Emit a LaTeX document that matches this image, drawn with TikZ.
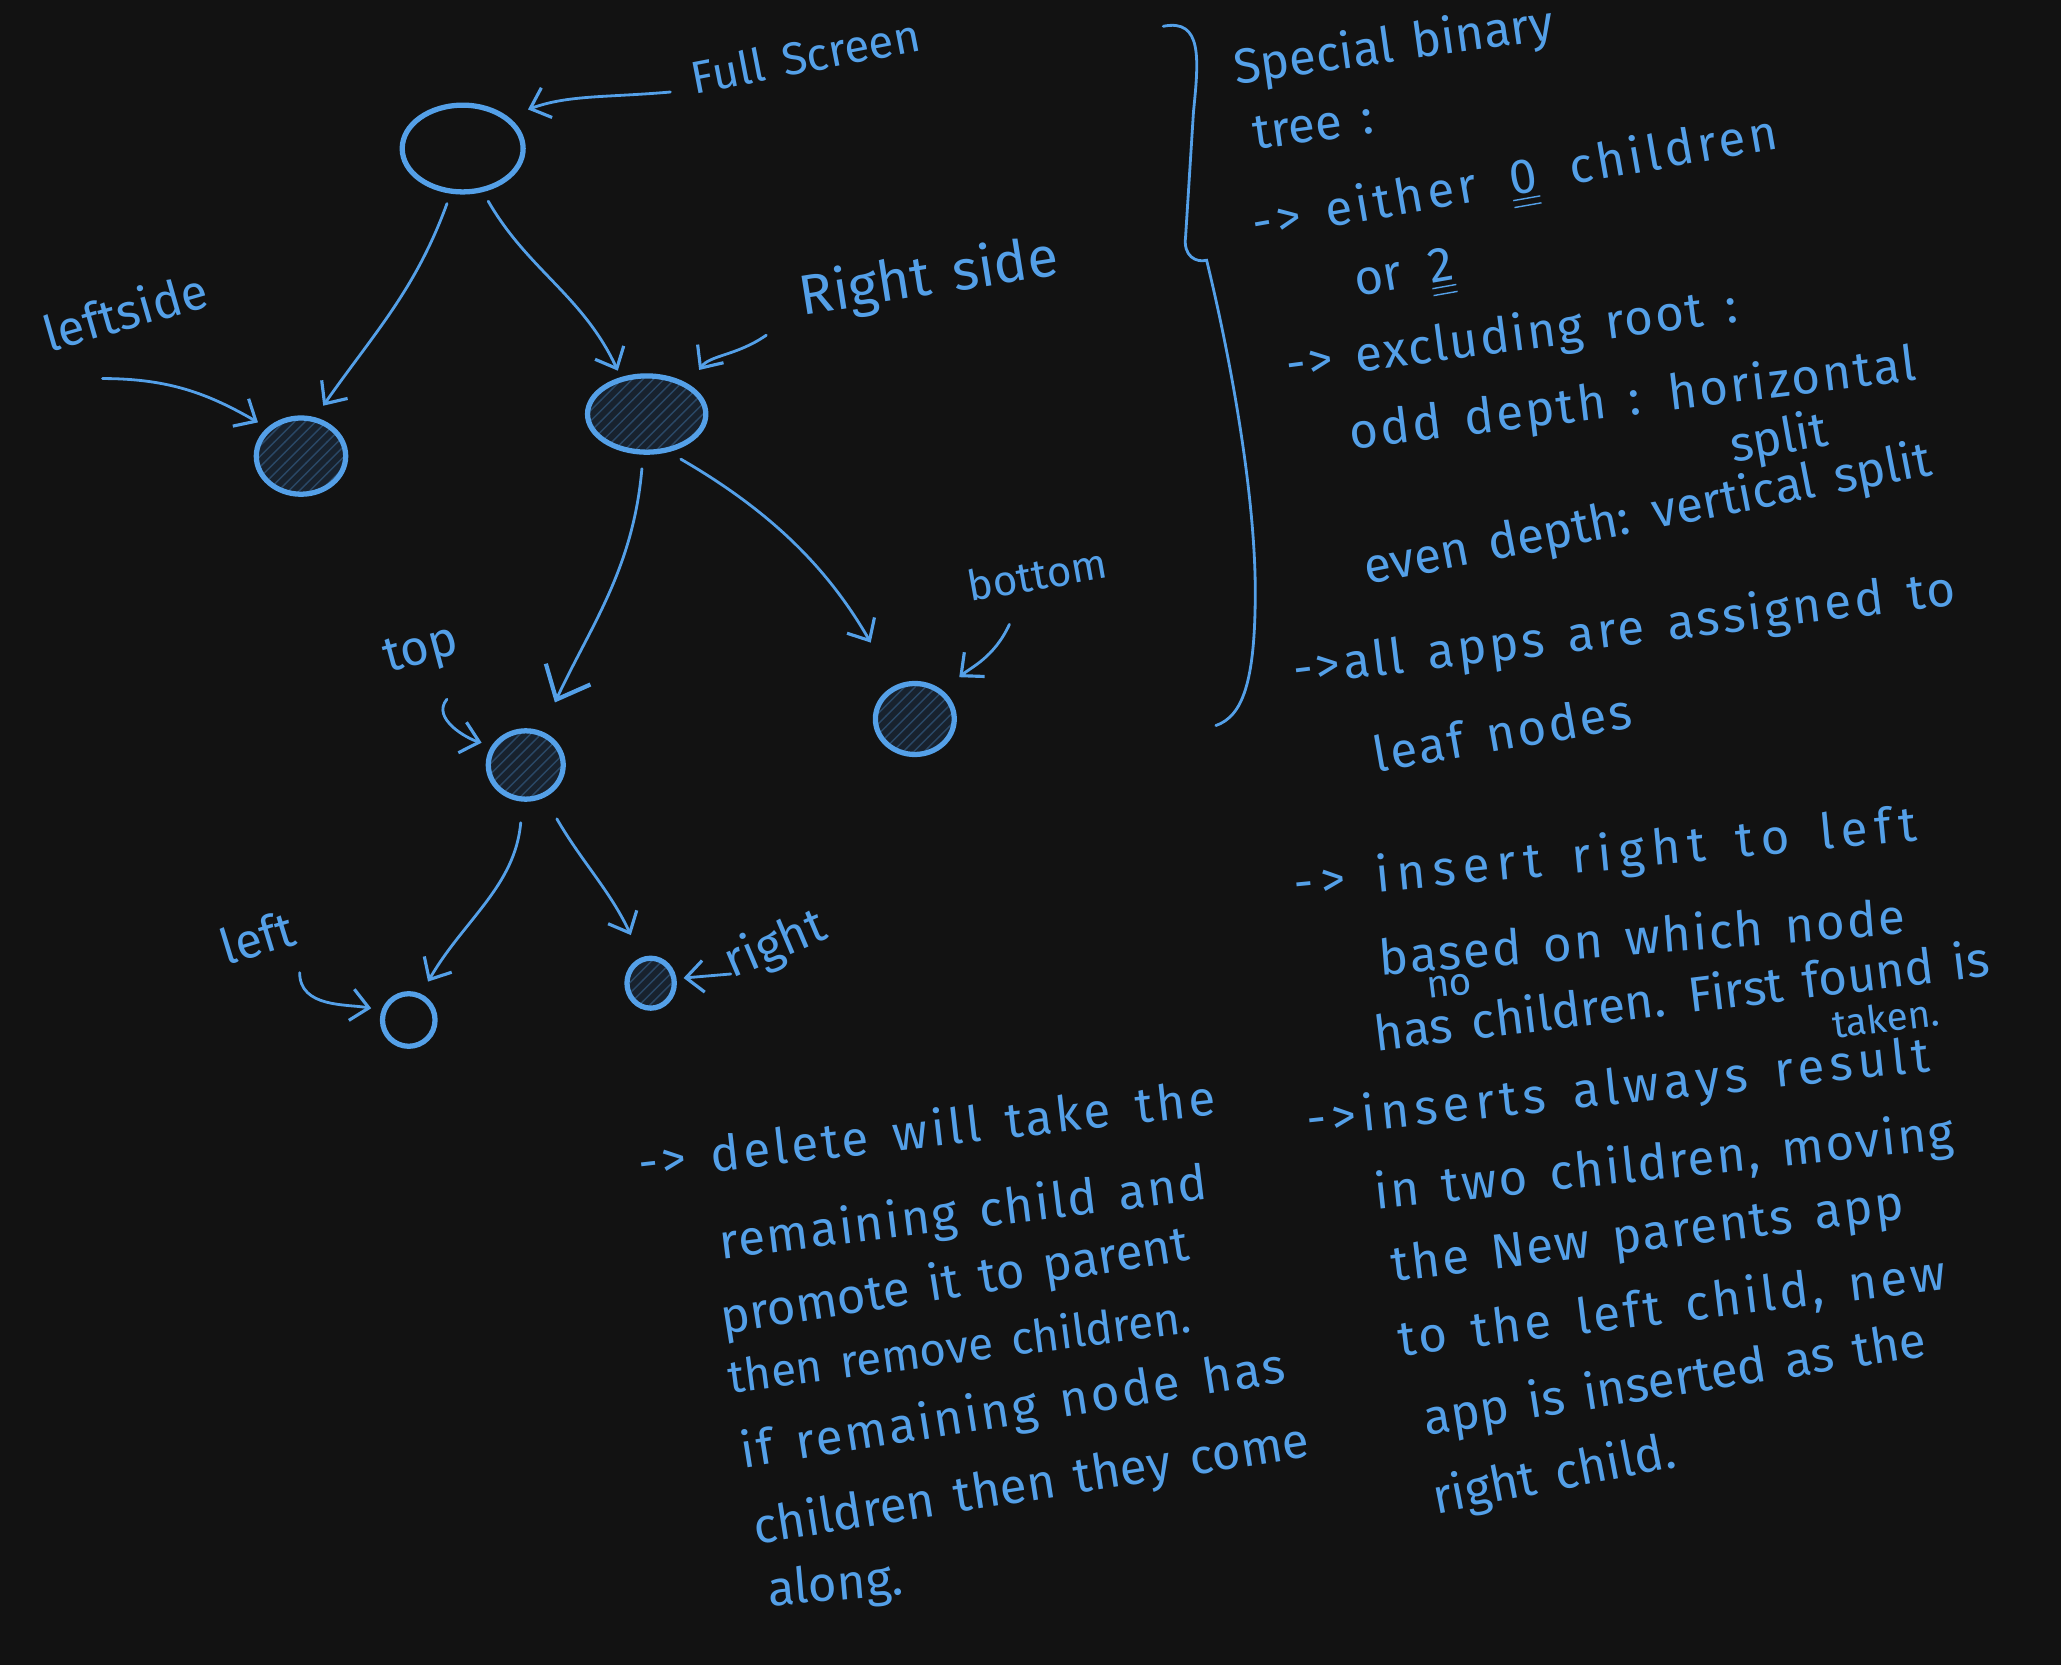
\documentclass[tikz,border=0pt]{standalone}
\usepackage{fontspec}
\setmainfont{Fira Sans}
\newfontfamily\hand[WordSpace=1.5]{Fira Sans}
\usetikzlibrary{arrows.meta,shapes.geometric,patterns}
\definecolor{ink}{RGB}{84,160,232}
\definecolor{board}{RGB}{18,18,18}
\definecolor{shade}{RGB}{24,34,46}
\def\px{0.13144mm}
\tikzset{
  pen/.style={ink, line width=0.8pt, line cap=round},
  tip/.style={-{Straight Barb[length=5pt,width=9pt,line width=0.9pt]}},
  bigtip/.style={-{Straight Barb[length=8pt,width=14pt,line width=1.2pt]}},
  vertex/.style={ellipse, draw=ink, line width=1.5pt, inner sep=0pt},
  solid vertex/.style={vertex, preaction={fill=shade}, pattern=north east lines, pattern color=ink!30!shade},
  note/.style={font=\hand\fontsize{14}{17}\selectfont, text=ink, anchor=base west, inner sep=0pt},
  wide note/.style={note, font=\hand\fontsize{14}{17}\selectfont\addfontfeatures{LetterSpace=#1}},
  small note/.style={note, font=\hand\fontsize{11}{13}\selectfont},
  narrow note/.style={note, font=\hand\fontsize{13}{15}\selectfont},
}

\begin{document}
\begin{tikzpicture}[x=\px, y=-\px]
  \fill[board] (0,0) rectangle (1568,1267);
  \useasboundingbox (0,0) rectangle (1568,1267);

  \node[vertex, minimum width=92*\px, minimum height=66*\px] (root) at (352,113) {};
  \node[solid vertex, minimum width=68*\px, minimum height=58*\px] (lside) at (229,347) {};
  \node[solid vertex, minimum width=90*\px, minimum height=58*\px] (rside) at (492,315) {};
  \node[solid vertex, minimum width=57*\px, minimum height=52*\px] (topn) at (400,582) {};
  \node[solid vertex, minimum width=60*\px, minimum height=54*\px] (botn) at (696,547) {};
  \node[vertex, minimum width=40*\px, minimum height=40*\px] (leftn) at (311,776) {};
  \node[solid vertex, minimum width=36*\px, minimum height=38*\px] (rightn) at (495,748) {};

  \draw[pen, tip, shorten <=3pt, shorten >=4pt] (root.255) to[out=250, in=55] (lside.70);
  \draw[pen, tip, shorten <=3pt, shorten >=2pt] (root.295) to[out=300, in=115] (rside.125);
  \draw[pen, bigtip, shorten <=4pt, shorten >=9pt] (rside.265) to[out=265, in=65] (topn.65);
  \draw[pen, tip, shorten <=4pt, shorten >=14pt] (rside.300) to[out=330, in=120] (botn.120);
  \draw[pen, tip, shorten <=6pt, shorten >=4pt] (topn.265) to[out=265, in=60] (leftn.65);
  \draw[pen, tip, shorten <=7pt, shorten >=7pt] (topn.300) to[out=300, in=115] (rightn.110);

  \node[note, rotate=11, font=\hand\fontsize{13}{15}\selectfont] (lbfull) at (528,72) {Full Screen};
  \node[note, rotate=16] (lblside) at (37,268) {leftside};
  \node[note, rotate=9, font=\hand\fontsize{16}{18}\selectfont] (lbrside) at (610,240) {Right side};
  \node[note, rotate=10, font=\hand\fontsize{12}{14}\selectfont] (lbbot) at (738,458) {bottom};
  \node[note, rotate=15] (lbtop) at (295,512) {top};
  \node[note, rotate=17] (lbleft) at (172,735) {left};
  \node[note, rotate=23] (lbright) at (557,745) {right};

  \coordinate (tfull) at (510,70);
  \coordinate (tlside) at (78,288);
  \coordinate (trside) at (583,255);
  \coordinate (tbot) at (768,475);
  \coordinate (ttop) at (340,532);
  \coordinate (tleft) at (228,740);
  \coordinate (tright) at (556,741);

  \draw[pen, tip, shorten >=6pt] (tfull) to[out=185, in=20] (root.35);
  \draw[pen, tip, shorten >=3pt] (tlside) to[out=0, in=150] (lside.140);
  \draw[pen, tip, shorten >=5pt] (trside) to[out=215, in=55] (rside.35);
  \draw[pen, tip, shorten >=6pt] (tbot) to[out=245, in=40] (botn.45);
  \draw[pen, tip, shorten >=3pt] (ttop) to[out=230, in=165] (topn.150);
  \draw[pen, tip, shorten >=3pt] (tleft) to[out=270, in=170] (leftn.160);
  \draw[pen, tip, shorten >=2pt] (tright) -- (rightn.10);

  \draw[pen] (885,20) .. controls (915,14) and (912,45) .. (908,85)
    -- (902,180) .. controls (900,195) and (910,200) .. (918,198)
    .. controls (938,280) and (955,380) .. (955,450)
    .. controls (955,520) and (945,545) .. (925,552);

  \node[note, rotate=8] (r1) at (940,64) {Special binary};
  \node[note, rotate=8] (r2) at (955,114) {tree :};
  \node[wide note=8, rotate=10] (r3) at (955,183) {-> either \,$\underline{\underline{\mbox{0}}}$\, children};
  \node[note, rotate=10] (r4) at (1032,226) {or \,$\underline{\underline{\mbox{2}}}$};
  \node[wide note=4, rotate=7.5] (r5) at (980,290) {-> excluding root :};
  \node[wide note=5, rotate=7] (r6) at (1028,342) {odd depth : horizontal};
  \node[note, rotate=10] (r7) at (1318,352) {split};
  \node[note, rotate=11] (r8) at (1040,445) {even depth: vertical split};
  \node[wide note=6, rotate=7] (r9) at (985,522) {->all apps are assigned to};
  \node[wide note=5, rotate=10] (r10) at (1047,588) {leaf nodes};
  \node[wide note=15, rotate=5.5] (r11) at (985,685) {-> insert right to left};
  \node[wide note=4, rotate=4.5] (r12) at (1050,742) {based on which node};
  \node[note, rotate=7] (r13) at (1047,800) {has children. First found is};
  \node[small note, rotate=7] (r13a) at (1086,760) {no};
  \node[small note, rotate=7] (r13b) at (1395,790) {taken.};
  \node[wide note=11, rotate=6] (r14) at (995,865) {->inserts always result};
  \node[wide note=4, rotate=6] (r15) at (1047,920) {in two children, moving};
  \node[wide note=4, rotate=7] (r16) at (1060,975) {the New parents app};
  \node[wide note=7, rotate=7] (r17) at (1065,1032) {to the left child, new};
  \node[note, rotate=9] (r18) at (1085,1092) {app is inserted as the};
  \node[note, rotate=11] (r19) at (1092,1152) {right child.};

  \node[wide note=7, rotate=6.5] (b1) at (487,898) {-> delete will take the};
  \node[wide note=4, rotate=7] (b2) at (548,958) {remaining child and};
  \node[note, rotate=9] (b3) at (550,1015) {promote it to parent};
  \node[narrow note, rotate=7.5] (b4) at (555,1060) {then remove children.};
  \node[wide note=5, rotate=9] (b5) at (565,1117) {if remaining node has};
  \node[note, rotate=9] (b6) at (575,1175) {children then they come};
  \node[note, rotate=5] (b7) at (585,1222) {along.};
\end{tikzpicture}
\end{document}
